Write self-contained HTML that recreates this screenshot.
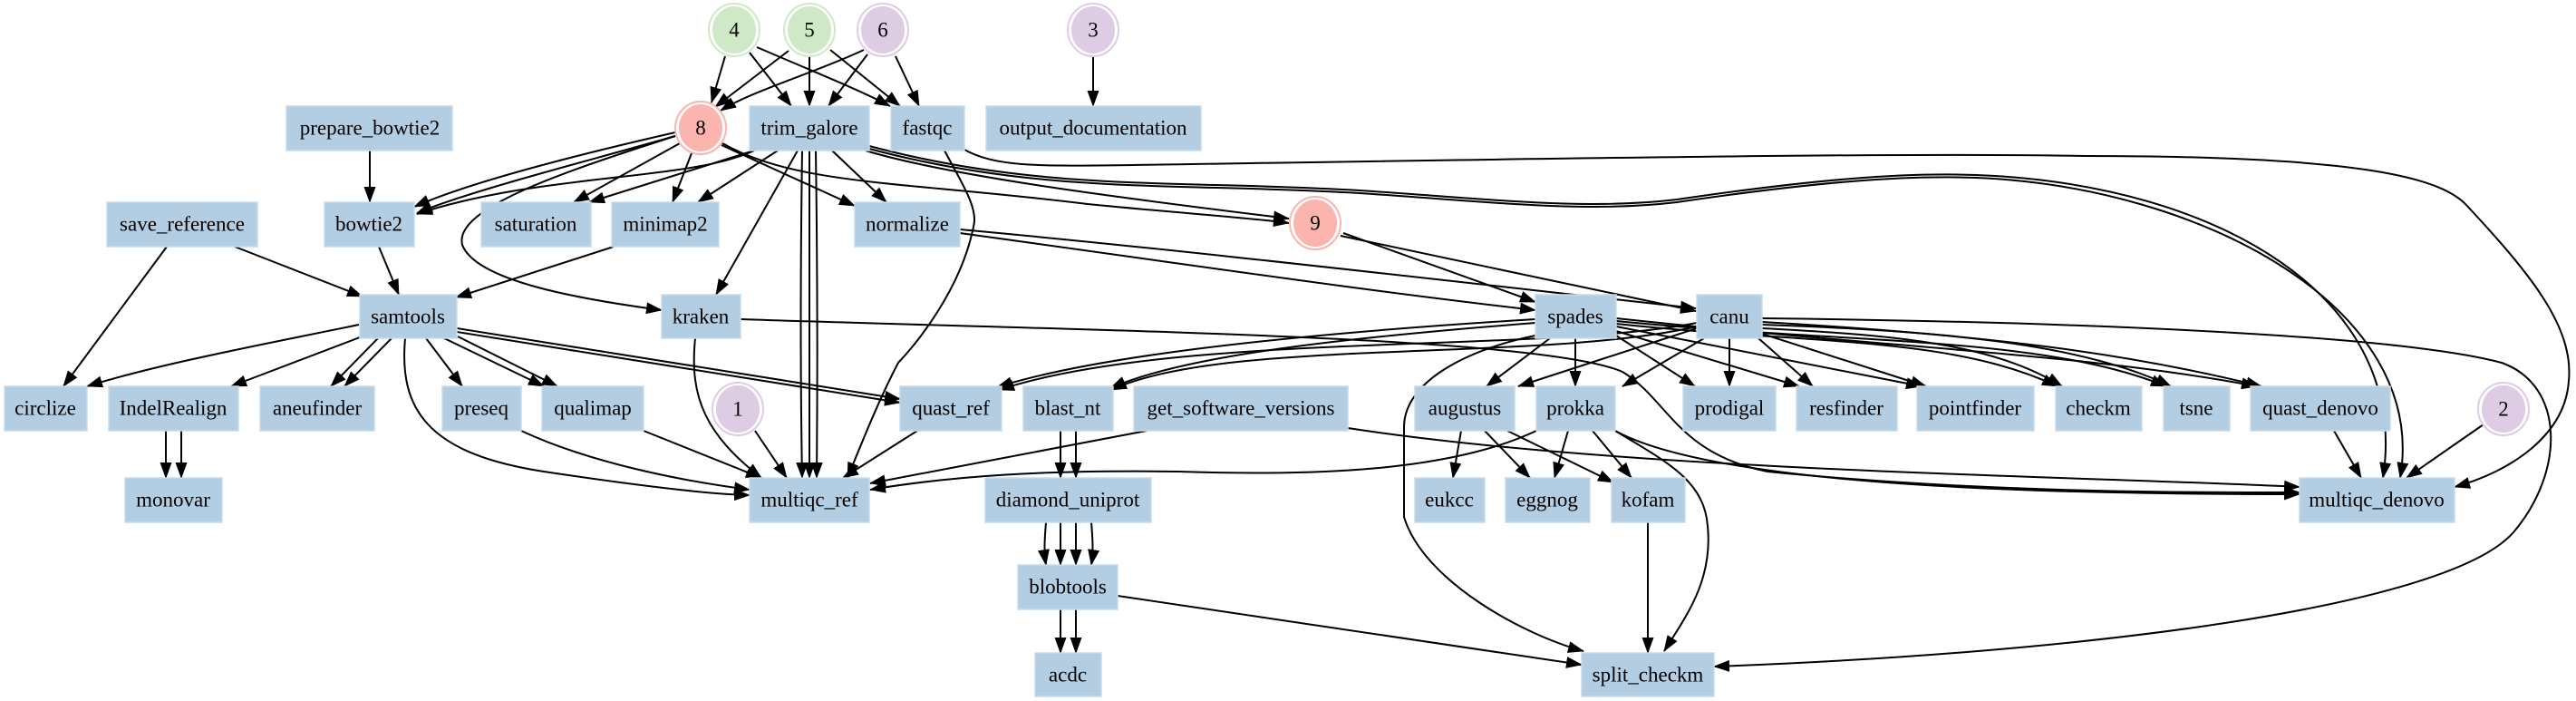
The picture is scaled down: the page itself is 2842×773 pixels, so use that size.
<!DOCTYPE html>
<html><head><meta charset="utf-8"><style>
html,body{margin:0;padding:0;background:#fff;}
svg{display:block;}
text{font-family:"Liberation Serif","Times New Roman",serif;font-size:23px;fill:#000;text-anchor:middle;dominant-baseline:central;}
.e{fill:none;stroke:#000;stroke-width:2;marker-end:url(#a);}
.n{fill:#b3cde3;stroke:#c8dbea;stroke-width:1.5;}
</style></head><body>
<svg width="2842" height="773" viewBox="0 0 2842 773" xmlns="http://www.w3.org/2000/svg">
<defs><marker id="a" markerUnits="userSpaceOnUse" markerWidth="18" markerHeight="13" refX="17" refY="6.5" orient="auto"><path d="M0,0 L18,6.5 L0,13 z" fill="#000"/></marker></defs>

<!-- edges -->
<path class="e" d="M800,62 L785,113"/>
<path class="e" d="M827,58 L873,117"/>
<path class="e" d="M835,52 C900,80 950,100 982,117"/>
<path class="e" d="M870,56 L789,118"/>
<path class="e" d="M893,63 L893,117"/>
<path class="e" d="M916,55 L993,117"/>
<path class="e" d="M953,55 C900,80 830,100 795,122"/>
<path class="e" d="M957,60 L914,117"/>
<path class="e" d="M988,62 L1014,117"/>
<path class="e" d="M1206,62 L1206,117"/>
<path class="e" d="M408,166 L408,223"/>
<path class="e" d="M745,146 C640,170 520,200 457,228"/>
<path class="e" d="M745,150 C640,180 520,210 460,235"/>
<path class="e" d="M832,166 C760,200 600,190 460,236"/>
<path class="e" d="M750,158 L633,223"/>
<path class="e" d="M832,166 L650,223"/>
<path class="e" d="M763,169 L742,223"/>
<path class="e" d="M858,166 L770,223"/>
<path class="e" d="M745,150 C620,190 500,230 510,270 C525,310 640,330 730,342"/>
<path class="e" d="M880,166 L790,325"/>
<path class="e" d="M885,166 C883,300 883,420 885,527"/>
<path class="e" d="M893,166 L893,527"/>
<path class="e" d="M900,166 C902,300 902,420 901,527"/>
<path class="e" d="M796,160 L943,227"/>
<path class="e" d="M918,166 L978,223"/>
<path class="e" d="M797,158 C880,205 1000,200 1200,225 C1300,235 1380,240 1422,246"/>
<path class="e" d="M955,166 C1050,195 1250,220 1422,241"/>
<path class="e" d="M959,161 C1150,212 1300,198 1500,210 C1650,220 1750,232 1850,220 C2000,198 2100,190 2180,193 C2450,203 2660,330 2629,527"/>
<path class="e" d="M959,164 C1150,215 1300,201 1500,213 C1650,223 1750,235 1850,223 C2000,201 2100,193 2180,196 C2430,206 2680,340 2648,527"/>
<path class="e" d="M1064,165 C1100,185 1150,183 1250,182 C1700,175 2100,168 2300,172 C2600,172 2690,195 2720,225 C2790,300 2840,360 2834,420 C2830,480 2770,520 2708,537"/>
<path class="e" d="M1042,166 C1060,200 1080,230 1074,250 C1060,320 1010,380 991,400 C970,440 950,490 935,527"/>
<path class="e" d="M184,272 L70,426"/>
<path class="e" d="M259,272 L400,327"/>
<path class="e" d="M418,272 L440,325"/>
<path class="e" d="M677,272 L503,328"/>
<path class="e" d="M1059,253 C1300,275 1600,310 1871,340"/>
<path class="e" d="M1059,257 C1300,290 1500,320 1694,342"/>
<path class="e" d="M1482,257 L1694,333"/>
<path class="e" d="M1479,260 L1871,343"/>
<path class="e" d="M396,358 C300,378 180,400 96,426"/>
<path class="e" d="M397,372 L255,426"/>
<path class="e" d="M417,373 L365,426"/>
<path class="e" d="M432,373 L380,426"/>
<path class="e" d="M470,373 L510,426"/>
<path class="e" d="M490,373 L600,426"/>
<path class="e" d="M505,371 L615,426"/>
<path class="e" d="M447,373 C440,450 470,500 600,520 C700,535 780,545 827,546"/>
<path class="e" d="M504,362 L993,440"/>
<path class="e" d="M504,366 L993,444"/>
<path class="e" d="M183,475 L183,527"/>
<path class="e" d="M200,475 L200,527"/>
<path class="e" d="M575,475 C650,510 750,530 827,540"/>
<path class="e" d="M710,475 L840,527"/>
<path class="e" d="M833,475 L868,527"/>
<path class="e" d="M1012,475 L930,527"/>
<path class="e" d="M1265,475 L960,533"/>
<path class="e" d="M1695,475 C1600,520 1450,525 1300,520 C1150,518 1050,525 960,540"/>
<path class="e" d="M767,373 C760,440 780,480 840,527"/>
<path class="e" d="M817,352 C1200,365 1700,370 1790,410 C1840,440 1850,500 1950,520 C2200,545 2450,543 2537,543"/>
<path class="e" d="M1487,472 C1800,520 2300,525 2537,537"/>
<path class="e" d="M1782,475 C1900,540 2300,545 2537,545"/>
<path class="e" d="M2575,475 L2605,527"/>
<path class="e" d="M2740,468 L2655,527"/>
<path class="e" d="M1694,352 C1400,370 1200,395 1100,427"/>
<path class="e" d="M1694,356 C1450,375 1300,395 1225,428"/>
<path class="e" d="M1872,356 C1700,390 1300,365 1102,430"/>
<path class="e" d="M1872,360 C1700,400 1350,372 1226,430"/>
<path class="e" d="M1710,373 L1640,426"/>
<path class="e" d="M1738,373 L1738,426"/>
<path class="e" d="M1783,370 L1870,426"/>
<path class="e" d="M1783,365 L1985,426"/>
<path class="e" d="M1783,360 L2120,426"/>
<path class="e" d="M1783,357 C2000,380 2150,370 2270,426"/>
<path class="e" d="M1783,354 C2050,380 2250,370 2390,426"/>
<path class="e" d="M1783,351 C2100,385 2300,390 2490,426"/>
<path class="e" d="M1694,370 C1620,385 1550,420 1549,470 L1549,570 C1570,640 1680,700 1747,718"/>
<path class="e" d="M1872,362 L1675,426"/>
<path class="e" d="M1880,373 L1790,426"/>
<path class="e" d="M1908,373 L1908,426"/>
<path class="e" d="M1940,373 L2000,426"/>
<path class="e" d="M1944,368 L2125,426"/>
<path class="e" d="M1944,362 C2100,370 2200,380 2275,426"/>
<path class="e" d="M1944,358 C2150,365 2300,380 2395,426"/>
<path class="e" d="M1944,355 C2200,370 2350,390 2495,426"/>
<path class="e" d="M1944,351 C2300,355 2650,370 2760,400 C2830,425 2830,520 2773,587 C2700,670 2300,720 1891,735"/>
<path class="e" d="M1782,475 C1840,510 1880,530 1884,580 C1890,640 1860,680 1836,718"/>
<path class="e" d="M1818,576 L1818,720"/>
<path class="e" d="M1612,475 L1603,527"/>
<path class="e" d="M1638,475 L1688,527"/>
<path class="e" d="M1663,475 L1780,532"/>
<path class="e" d="M1730,475 L1715,527"/>
<path class="e" d="M1757,475 L1800,527"/>
<path class="e" d="M1170,475 L1170,527"/>
<path class="e" d="M1187,475 L1187,527"/>
<path class="e" d="M1154,576 C1152,600 1152,610 1154,623"/>
<path class="e" d="M1170,576 L1170,623"/>
<path class="e" d="M1187,576 L1187,623"/>
<path class="e" d="M1204,576 C1206,600 1206,610 1204,623"/>
<path class="e" d="M1170,672 L1170,720"/>
<path class="e" d="M1187,672 L1187,720"/>
<path class="e" d="M1233,657 L1745,733"/>

<!-- circles -->
<g stroke-width="2">
<ellipse cx="810" cy="33" rx="28" ry="29" fill="none" stroke="#cfe9c6"/><ellipse cx="810" cy="33" rx="24" ry="26" fill="#cfe9c6"/>
<ellipse cx="893" cy="33" rx="28" ry="29" fill="none" stroke="#cfe9c6"/><ellipse cx="893" cy="33" rx="24" ry="26" fill="#cfe9c6"/>
<ellipse cx="974" cy="33" rx="28" ry="29" fill="none" stroke="#decbe4"/><ellipse cx="974" cy="33" rx="24" ry="26" fill="#decbe4"/>
<ellipse cx="1206" cy="33" rx="28" ry="29" fill="none" stroke="#decbe4"/><ellipse cx="1206" cy="33" rx="24" ry="26" fill="#decbe4"/>
<ellipse cx="773" cy="141" rx="28" ry="29" fill="#fff" stroke="#fbb4ae"/><ellipse cx="773" cy="141" rx="24" ry="26" fill="#fbb4ae"/>
<ellipse cx="1451" cy="246" rx="28" ry="29" fill="#fff" stroke="#fbb4ae"/><ellipse cx="1451" cy="246" rx="24" ry="26" fill="#fbb4ae"/>
<ellipse cx="814" cy="451" rx="28" ry="29" fill="#fff" stroke="#decbe4"/><ellipse cx="814" cy="451" rx="24" ry="26" fill="#decbe4"/>
<ellipse cx="2762" cy="451" rx="28" ry="29" fill="#fff" stroke="#decbe4"/><ellipse cx="2762" cy="451" rx="24" ry="26" fill="#decbe4"/>
</g>
<text x="810" y="33">4</text><text x="893" y="33">5</text><text x="974" y="33">6</text><text x="1206" y="33">3</text>
<text x="773" y="141">8</text><text x="1451" y="246">9</text><text x="814" y="451">1</text><text x="2762" y="451">2</text>

<!-- boxes -->
<rect class="n" x="316" y="117" width="183" height="49"/><text x="408" y="141">prepare_bowtie2</text>
<rect class="n" x="827" y="117" width="132" height="49"/><text x="893" y="141">trim_galore</text>
<rect class="n" x="983" y="117" width="81" height="49"/><text x="1023" y="141">fastqc</text>
<rect class="n" x="1088" y="117" width="237" height="49"/><text x="1206" y="141">output_documentation</text>

<rect class="n" x="118" y="223" width="166" height="49"/><text x="201" y="247">save_reference</text>
<rect class="n" x="358" y="223" width="99" height="49"/><text x="407" y="247">bowtie2</text>
<rect class="n" x="531" y="223" width="121" height="49"/><text x="591" y="247">saturation</text>
<rect class="n" x="675" y="223" width="118" height="49"/><text x="734" y="247">minimap2</text>
<rect class="n" x="943" y="223" width="116" height="49"/><text x="1001" y="247">normalize</text>

<rect class="n" x="397" y="325" width="107" height="48"/><text x="450" y="349">samtools</text>
<rect class="n" x="730" y="325" width="87" height="48"/><text x="773" y="349">kraken</text>
<rect class="n" x="1694" y="325" width="89" height="48"/><text x="1738" y="349">spades</text>
<rect class="n" x="1872" y="325" width="72" height="48"/><text x="1908" y="349">canu</text>

<rect class="n" x="5" y="426" width="91" height="49"/><text x="50" y="450">circlize</text>
<rect class="n" x="120" y="426" width="143" height="49"/><text x="191" y="450">IndelRealign</text>
<rect class="n" x="287" y="426" width="126" height="49"/><text x="350" y="450">aneufinder</text>
<rect class="n" x="488" y="426" width="87" height="49"/><text x="531" y="450">preseq</text>
<rect class="n" x="598" y="426" width="112" height="49"/><text x="654" y="450">qualimap</text>
<rect class="n" x="993" y="426" width="112" height="49"/><text x="1049" y="450">quast_ref</text>
<rect class="n" x="1129" y="426" width="99" height="49"/><text x="1178" y="450">blast_nt</text>
<rect class="n" x="1251" y="426" width="236" height="49"/><text x="1369" y="450">get_software_versions</text>
<rect class="n" x="1561" y="426" width="110" height="49"/><text x="1616" y="450">augustus</text>
<rect class="n" x="1695" y="426" width="87" height="49"/><text x="1738" y="450">prokka</text>
<rect class="n" x="1857" y="426" width="102" height="49"/><text x="1908" y="450">prodigal</text>
<rect class="n" x="1982" y="426" width="111" height="49"/><text x="2037" y="450">resfinder</text>
<rect class="n" x="2115" y="426" width="129" height="49"/><text x="2179" y="450">pointfinder</text>
<rect class="n" x="2268" y="426" width="95" height="49"/><text x="2315" y="450">checkm</text>
<rect class="n" x="2387" y="426" width="73" height="49"/><text x="2423" y="450">tsne</text>
<rect class="n" x="2483" y="426" width="154" height="49"/><text x="2560" y="450">quast_denovo</text>

<rect class="n" x="138" y="527" width="107" height="49"/><text x="191" y="551">monovar</text>
<rect class="n" x="827" y="527" width="132" height="49"/><text x="893" y="551">multiqc_ref</text>
<rect class="n" x="1087" y="527" width="183" height="49"/><text x="1178" y="551">diamond_uniprot</text>
<rect class="n" x="1561" y="527" width="77" height="49"/><text x="1599" y="551">eukcc</text>
<rect class="n" x="1661" y="527" width="93" height="49"/><text x="1707" y="551">eggnog</text>
<rect class="n" x="1778" y="527" width="81" height="49"/><text x="1818" y="551">kofam</text>
<rect class="n" x="2537" y="527" width="171" height="49"/><text x="2622" y="551">multiqc_denovo</text>

<rect class="n" x="1123" y="623" width="110" height="49"/><text x="1178" y="647">blobtools</text>
<rect class="n" x="1142" y="720" width="73" height="48"/><text x="1178" y="744">acdc</text>
<rect class="n" x="1745" y="720" width="146" height="48"/><text x="1818" y="744">split_checkm</text>
</svg>
</body></html>
